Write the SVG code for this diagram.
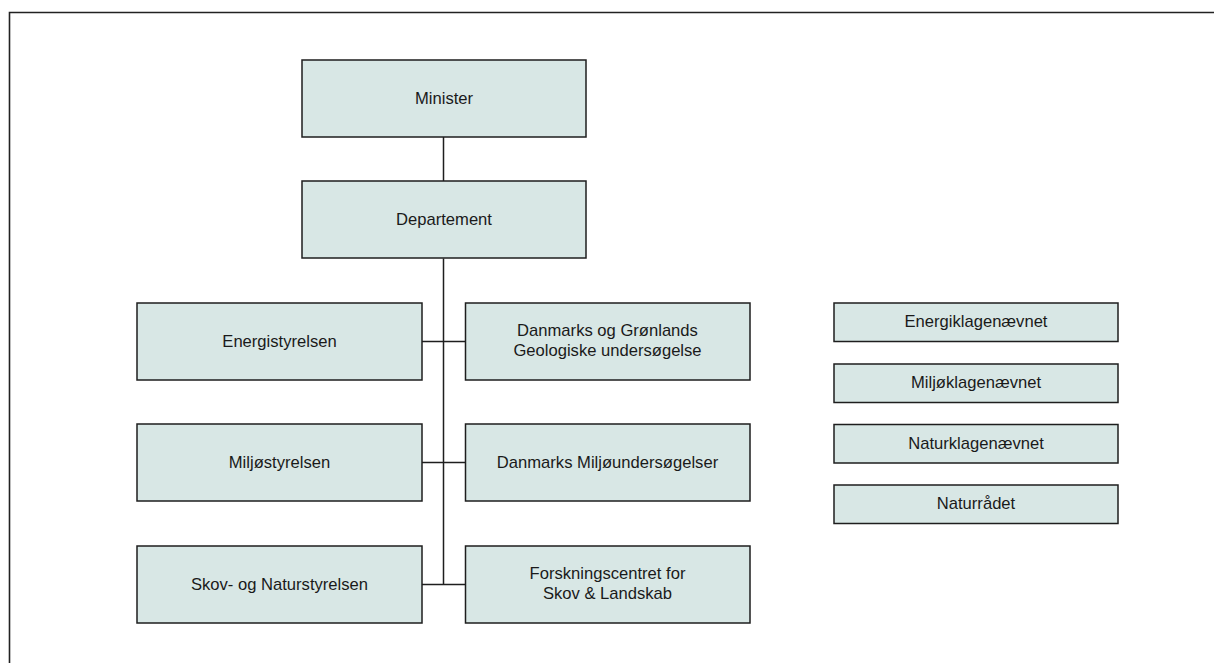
<svg xmlns="http://www.w3.org/2000/svg" width="1214" height="663" viewBox="0 0 1214 663">
<style>
.box{fill:#d8e7e5;stroke:#1e1e1e;stroke-width:1.5}
.t{font-family:"Liberation Sans",Arial,sans-serif;font-size:16.6px;fill:#1a1a1a;text-anchor:middle}
.ln{stroke:#1e1e1e;stroke-width:1.5;fill:none}
</style>
<rect width="1214" height="663" fill="#ffffff"/>
<path d="M9.5,663 V12.5 H1214" fill="none" stroke="#222" stroke-width="1.6"/>
<g id="connectors">
<path class="ln" d="M443.5,137 V181 M443.5,258.5 V584.5 M422,341.5 H465.5 M422,462.5 H465.5 M422,584.5 H465.5"/>
</g>
<g id="minister"><rect class="box" x="302" y="60" width="284" height="77"/><text class="t" x="444" y="104">Minister</text></g>
<g id="departement"><rect class="box" x="302" y="181" width="284" height="77"/><text class="t" x="444" y="225">Departement</text></g>
<g id="energistyrelsen"><rect class="box" x="137" y="303" width="285" height="77"/><text class="t" x="279.5" y="347">Energistyrelsen</text></g>
<g id="dggu"><rect class="box" x="465.5" y="303" width="284.5" height="77"/><text class="t" x="607.5" y="336">Danmarks og Grønlands</text><text class="t" x="607.5" y="356">Geologiske undersøgelse</text></g>
<g id="miljostyrelsen"><rect class="box" x="137" y="424" width="285" height="77"/><text class="t" x="279.5" y="468">Miljøstyrelsen</text></g>
<g id="dmu"><rect class="box" x="465.5" y="424" width="284.5" height="77"/><text class="t" x="607.5" y="468">Danmarks Miljøundersøgelser</text></g>
<g id="skov"><rect class="box" x="137" y="546" width="285" height="77"/><text class="t" x="279.5" y="590">Skov- og Naturstyrelsen</text></g>
<g id="forskning"><rect class="box" x="465.5" y="546" width="284.5" height="77"/><text class="t" x="607.5" y="579">Forskningscentret for</text><text class="t" x="607.5" y="599">Skov &amp; Landskab</text></g>
<g id="energiklagenaevnet"><rect class="box" x="834" y="303" width="284" height="38.5"/><text class="t" x="976" y="327">Energiklagenævnet</text></g>
<g id="miljoklagenaevnet"><rect class="box" x="834" y="364" width="284" height="38.5"/><text class="t" x="976" y="388">Miljøklagenævnet</text></g>
<g id="naturklagenaevnet"><rect class="box" x="834" y="424.5" width="284" height="38.5"/><text class="t" x="976" y="448.5">Naturklagenævnet</text></g>
<g id="naturraadet"><rect class="box" x="834" y="485" width="284" height="38.5"/><text class="t" x="976" y="509">Naturrådet</text></g>
</svg>
